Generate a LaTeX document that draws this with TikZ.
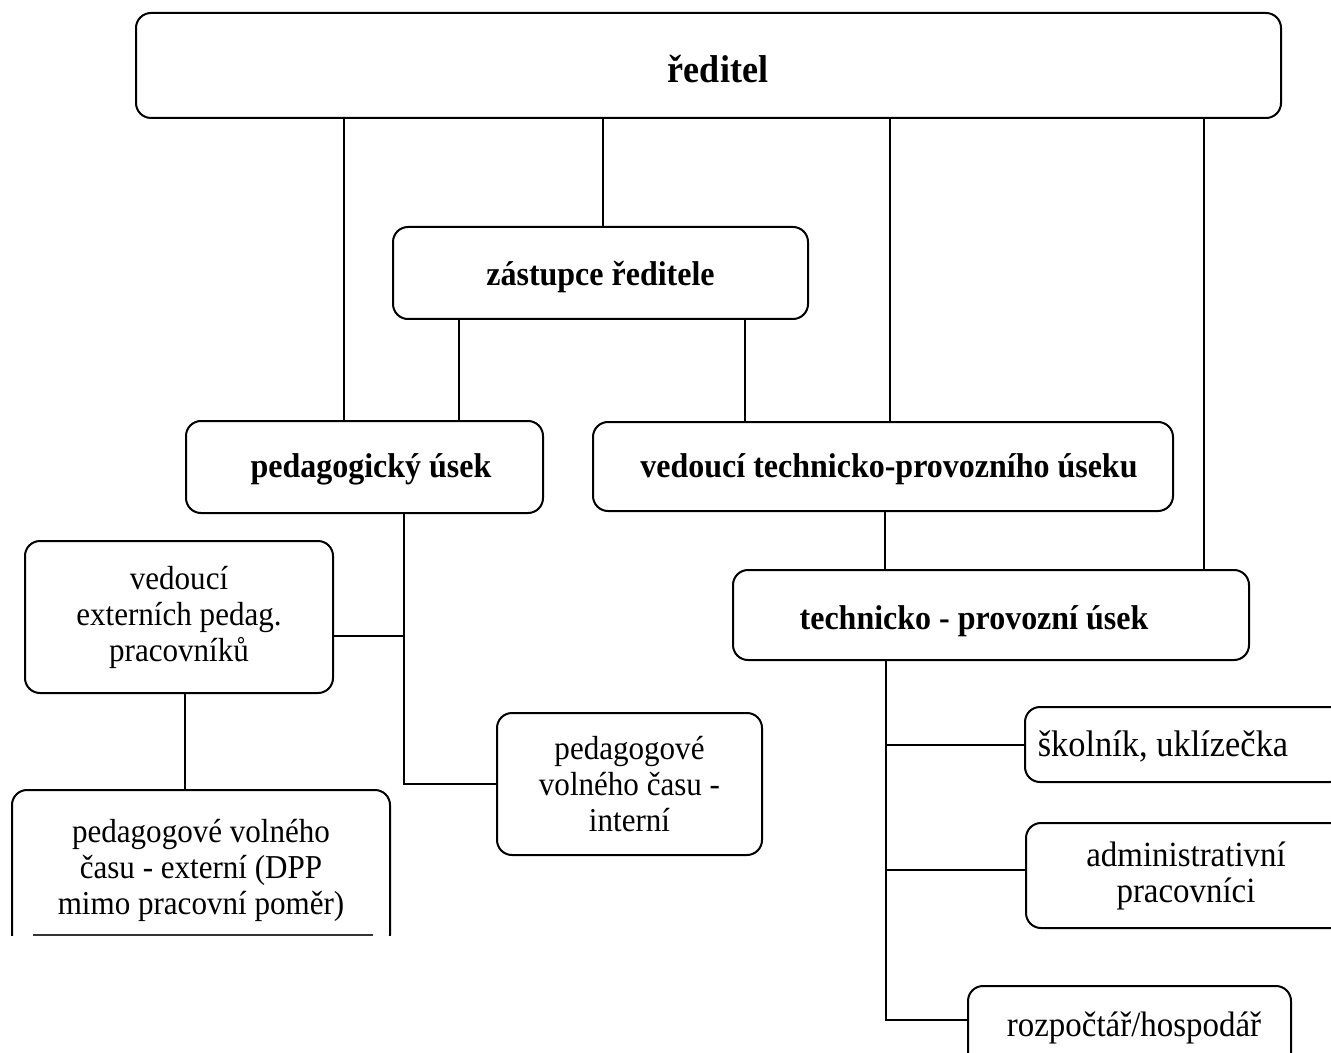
\documentclass[tikz,border=0pt]{standalone}
\usepackage{fontspec}
\setmainfont{Liberation Serif}[FakeStretch=0.93]
\newcommand\lowtxt[2]{\raisebox{-#1}[\height][\depth]{#2}}
\begin{document}
\begin{tikzpicture}[x=0.5pt,y=-0.5pt,
  box/.style={draw, line width=1pt, rounded corners=7.5pt, inner sep=0pt, align=center},
  bold/.style={font=\fontsize{17.2}{20}\selectfont\bfseries},
  reg/.style={font=\fontsize{16.7}{18}\selectfont},
  regr/.style={font=\fontsize{17.7}{18}\selectfont},
  conn/.style={line width=1pt}]
\useasboundingbox (0,0) rectangle (1331,1053);
\clip (0,0) rectangle (1331,1053);
% boxes
\node[box, font=\fontsize{19.4}{22}\selectfont\bfseries, minimum width=572.5pt, minimum height=52.5pt] (dir) at (708.5,65.5) {\hspace*{9.5pt}\lowtxt{2pt}{ředitel}};
\node[box, bold, minimum width=207.5pt, minimum height=46pt] (dep) at (600.5,273) {\lowtxt{2pt}{zástupce ředitele}};
\node[box, bold, minimum width=178.5pt, minimum height=46pt] (ped) at (364.5,467) {\hspace*{6.5pt}\lowtxt{1pt}{pedagogický úsek}};
\node[box, bold, minimum width=290pt, minimum height=44.5pt] (vtp) at (883,466.5) {\hspace*{6pt}\lowtxt{1.5pt}{vedoucí technicko-provozního úseku}};
\node[box, bold, minimum width=258pt, minimum height=45pt] (tpu) at (991,615) {\lowtxt{3pt}{technicko - provozní úsek}\hspace*{17pt}};
\node[box, reg, minimum width=154pt, minimum height=76pt] (vep) at (179,617) {vedoucí\\externích pedag.\\pracovníků};
\begin{scope}
\clip (0,0) rectangle (1331,935);
\node[box, reg, minimum width=189pt, minimum height=80pt] (ext) at (201,870) {pedagogové volného\\času - externí (DPP\\mimo pracovní poměr)};
\end{scope}
\draw[line width=1pt, black!80] (33,935) -- (373,935);
\node[box, reg, minimum width=132.5pt, minimum height=71pt] (int) at (629.5,784) {pedagogové\\volného času -\\interní};
\node[box, font=\fontsize{18.5}{18}\selectfont, minimum width=160pt, minimum height=37.5pt] (skol) at (1185,744.5) {\lowtxt{1pt}{školník, uklízečka}\hspace*{22pt}};
\node[box, regr, minimum width=160pt, minimum height=52.5pt] (adm) at (1186,875.5) {administrativní\\pracovníci};
\node[box, regr, minimum width=161.5pt, minimum height=42pt] (roz) at (1129.5,1028) {\hspace*{4.5pt}rozpočtář/hospodář};
% connectors
\draw[conn] (344,0 |- dir.south) -- (344,0 |- ped.north);
\draw[conn] (603,0 |- dir.south) -- (603,0 |- dep.north);
\draw[conn] (890,0 |- dir.south) -- (890,0 |- vtp.north);
\draw[conn] (1204,0 |- dir.south) -- (1204,0 |- tpu.north);
\draw[conn] (459,0 |- dep.south) -- (459,0 |- ped.north);
\draw[conn] (745,0 |- dep.south) -- (745,0 |- vtp.north);
\draw[conn] (885,0 |- vtp.south) -- (885,0 |- tpu.north);
\draw[conn] (404,0 |- ped.south) |- (int.west);
\draw[conn] (vep.east |- 0,636) -- (404,636);
\draw[conn] (185,0 |- vep.south) -- (185,0 |- ext.north);
\draw[conn] (886,0 |- tpu.south) |- (roz.west |- 0,1020);
\draw[conn] (886,0 |- skol.west) -- (skol.west);
\draw[conn] (886,870) -- (adm.west |- 0,870);
\end{tikzpicture}
\end{document}
